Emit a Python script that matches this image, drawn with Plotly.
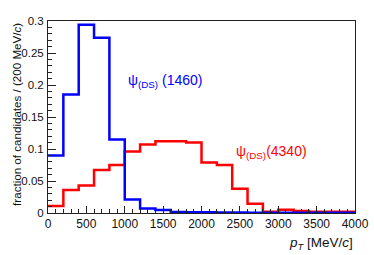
import plotly.graph_objects as go

bin_edges = [0, 200, 400, 600, 800, 1000, 1200, 1400, 1600, 1800, 2000,
             2200, 2400, 2600, 2800, 3000, 3200, 3400, 3600, 3800, 4000]
psi_1460 = [0.090, 0.185, 0.294, 0.274, 0.115, 0.021, 0.007, 0.0045, 0.0015, 0.001,
             0.001, 0.0008, 0.0008, 0.0005, 0.0005, 0.0005, 0.0003, 0.0003, 0.0003, 0.0003]
psi_4340 = [0.011, 0.036, 0.043, 0.067, 0.075, 0.096, 0.107, 0.112, 0.112, 0.110,
            0.079, 0.075, 0.038, 0.0145, 0.002, 0.005, 0.003, 0.002, 0.002, 0.002]
x_ticks = [0, 500, 1000, 1500, 2000, 2500, 3000, 3500, 4000]
y_ticks = [0, 0.05, 0.1, 0.15, 0.2, 0.25, 0.3]
y_tick_labels = ["0", "0.05", "0.1", "0.15", "0.2", "0.25", "0.3"]

FONT = "Liberation Sans, Arial, Helvetica, sans-serif"

fig = go.Figure()
fig.add_trace(go.Scatter(x=bin_edges, y=psi_4340 + [psi_4340[-1]], mode="lines",
                         line=dict(color="#ff0000", width=2.5, shape="hv"),
                         showlegend=False, hoverinfo="skip"))
fig.add_trace(go.Scatter(x=bin_edges, y=psi_1460 + [psi_1460[-1]], mode="lines",
                         line=dict(color="#0000ff", width=2.5, shape="hv"),
                         showlegend=False, hoverinfo="skip"))

axis_common = dict(showgrid=False, zeroline=False, showline=True, mirror=True,
                   linecolor="#222", linewidth=1, ticks="inside", tickcolor="#222",
                   tickwidth=1, automargin=False)

fig.update_xaxes(range=[0, 4000], tickvals=x_ticks, ticklen=7,
                 tickfont=dict(family=FONT, size=12, color="#111"),
                 minor=dict(ticks="inside", dtick=100, ticklen=4, tickcolor="#222"),
                 **axis_common)
fig.update_yaxes(range=[0, 0.3], tickvals=y_ticks, ticktext=y_tick_labels, ticklen=8,
                 tickfont=dict(family=FONT, size=11.5, color="#111"),
                 minor=dict(ticks="inside", dtick=0.01, ticklen=4, tickcolor="#222"),
                 ticklabelstandoff=1,
                 **axis_common)

fig.add_annotation(text="ψ<sub>(DS)</sub> (1460)", x=1010, y=0.206, xref="x", yref="y",
                   xanchor="left", yanchor="middle", showarrow=False,
                   font=dict(family=FONT, size=14, color="#0000ff"))
fig.add_annotation(text="ψ<sub>(DS)</sub>(4340)", x=2420, y=0.096, xref="x", yref="y",
                   xanchor="left", yanchor="middle", showarrow=False,
                   font=dict(family=FONT, size=14, color="#ff0000"))
fig.add_annotation(text="fraction of candidates / (200 MeV/<i>c</i>)",
                   xref="paper", yref="paper", x=-0.103, y=1.0,
                   xanchor="center", yanchor="top", textangle=-90, showarrow=False,
                   font=dict(family=FONT, size=11.6, color="#111"))
fig.add_annotation(text="<i>p</i><sub><i>T</i></sub> [MeV/<i>c</i>]",
                   xref="paper", yref="paper", x=1.0, y=-0.158,
                   xanchor="right", yanchor="middle", showarrow=False,
                   font=dict(family=FONT, size=13.5, color="#111"))

fig.update_layout(width=374, height=255, margin=dict(l=48, r=19, t=21, b=42),
                  paper_bgcolor="white", plot_bgcolor="white")
fig.write_html("out.html", config={"displayModeBar": False},
               post_script="document.body.style.margin='0';document.body.style.overflow='hidden';")
